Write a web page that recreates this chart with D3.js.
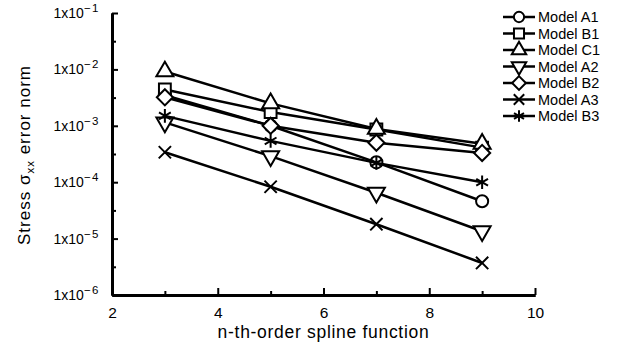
<!DOCTYPE html>
<html>
<head>
<meta charset="utf-8">
<script src="https://cdn.jsdelivr.net/npm/d3@7"></script>
<style>
  body { margin: 0; background: #fff; }
  svg { font-family: "Liberation Sans", Arial, sans-serif; }
</style>
</head>
<body>
<svg id="chart" width="622" height="352"></svg>
<script>
// spline order on x, error norm on y
var orders = [3, 5, 7, 9];
var modelA1 = [3.5e-3, 1.0e-3, 2.25e-4, 4.6e-5];
var modelB1 = [4.4e-3, 1.75e-3, 8.6e-4, 4.1e-4];
var modelC1 = [9.2e-3, 2.5e-3, 8.8e-4, 4.8e-4];
var modelA2 = [1.15e-3, 2.9e-4, 6.5e-5, 1.35e-5];
var modelB2 = [3.2e-3, 1.0e-3, 5.0e-4, 3.3e-4];
var modelA3 = [3.4e-4, 8.3e-5, 1.8e-5, 3.7e-6];
var modelB3 = [1.5e-3, 5.4e-4, 2.2e-4, 1.0e-4];

var seriesNames = ["Model A1", "Model B1", "Model C1", "Model A2", "Model B2", "Model A3", "Model B3"];
var seriesValues = [modelA1, modelB1, modelC1, modelA2, modelB2, modelA3, modelB3];
var markerTypes = ["circle", "square", "triangle", "triangleDown", "diamond", "times", "asterisk"];

var xTicks = [2, 4, 6, 8, 10];
var xMinor = [3, 5, 7, 9];
var yExponents = [-1, -2, -3, -4, -5, -6];

var svg = d3.select("#chart");
var plotLeft = 112, plotRight = 535, plotTop = 13, plotBottom = 295;

var x = d3.scaleLinear().domain([2, 10]).range([plotLeft, plotRight]);
var y = d3.scaleLog().domain([1e-6, 1e-1]).range([plotBottom, plotTop]);

function markerPath(type, k) {
    k = k || 1;
    var sym = d3.symbol();
    switch (type) {
        case "circle": return sym.type(d3.symbolCircle).size(115 * k * k)();
        case "square": return sym.type(d3.symbolSquare).size(140 * k * k)();
        case "triangle": return sym.type(d3.symbolTriangle).size(125 * k * k)();
        case "triangleDown": return sym.type(d3.symbolTriangle).size(125 * k * k)();
        case "diamond": return sym.type(d3.symbolDiamond2).size(165 * k * k)();
        case "times": return sym.type(d3.symbolTimes).size(100 * k * k)();
        case "asterisk": return sym.type(d3.symbolAsterisk).size(130 * k * k)();
    }
}

// axes
var gx = svg.append("g").attr("transform", "translate(0," + plotBottom + ")");
gx.call(d3.axisBottom(x).tickValues(xTicks).tickSize(-7).tickSizeOuter(0).tickPadding(12).tickFormat(d3.format("d")));
gx.append("g").call(d3.axisBottom(x).tickValues(xMinor).tickSize(-4).tickSizeOuter(0).tickFormat(""));
gx.selectAll(".domain").attr("stroke-width", 3);
gx.selectAll(".tick line").attr("stroke-width", 2);
gx.selectAll(".tick text").attr("font-size", 15.5).attr("fill", "#000").attr("font-family", "Liberation Sans, Arial, sans-serif");

var gy = svg.append("g").attr("transform", "translate(" + plotLeft + ",0)");
gy.call(d3.axisLeft(y).tickValues(yExponents.map(function(e){ return Math.pow(10, e); })).tickSize(-6).tickSizeOuter(0).tickFormat(""));
gy.append("g").call(d3.axisLeft(y).tickValues([-1.5, -2.5, -3.5, -4.5, -5.5].map(function(e){ return Math.pow(10, e); })).tickSize(-4).tickSizeOuter(0).tickFormat(""));
gy.selectAll(".domain").attr("stroke-width", 3);
gy.selectAll(".tick line").attr("stroke-width", 2);

// y tick labels 1x10^n
yExponents.forEach(function(e){
    var t = svg.append("text")
        .attr("x", 100)
        .attr("y", y(Math.pow(10, e)) + 5)
        .attr("text-anchor", "end")
        .attr("font-size", 14);
    t.append("tspan").text("1x10");
    t.append("tspan").attr("dy", -6).attr("font-size", 11.5).attr("letter-spacing", 1.5).text("\u2212" + (-e));
});

// titles
svg.append("text")
    .attr("x", (plotLeft + plotRight) / 2)
    .attr("y", 338)
    .attr("text-anchor", "middle")
    .attr("font-size", 17.5)
    .attr("letter-spacing", 0.7)
    .text("n-th-order spline function");

var yt = svg.append("text")
    .attr("transform", "translate(30,245) rotate(-90)")
    .attr("font-size", 17)
    .attr("letter-spacing", 1);
yt.append("tspan").text("Stress \u03c3");
yt.append("tspan").attr("dy", 4).attr("font-size", 11.5).text("xx");
yt.append("tspan").attr("dy", -4).text(" error norm");

// series
var line = d3.line().x(function(d){ return x(d[0]); }).y(function(d){ return y(d[1]); });

seriesValues.forEach(function(vals, i){
    var pts = orders.map(function(o, j){ return [o, vals[j]]; });
    svg.append("path")
        .datum(pts)
        .attr("d", line)
        .attr("fill", "none")
        .attr("stroke", "#000")
        .attr("stroke-width", 2.5);
    svg.selectAll(null)
        .data(pts)
        .enter().append("path")
        .attr("d", markerPath(markerTypes[i]))
        .attr("transform", function(d){
            return "translate(" + x(d[0]) + "," + y(d[1]) + ")" + (markerTypes[i] === "triangleDown" ? " rotate(180)" : "");
        })
        .attr("fill", "#fff")
        .attr("stroke", "#000")
        .attr("stroke-width", 2);
});

// legend
var legend = svg.append("g").attr("transform", "translate(503,17)");
seriesNames.forEach(function(name, i){
    var row = legend.append("g").attr("transform", "translate(0," + (i * 16.5) + ")");
    row.append("line").attr("x1", 0).attr("x2", 32).attr("stroke", "#000").attr("stroke-width", 2.5);
    row.append("path")
        .attr("d", markerPath(markerTypes[i], 0.85))
        .attr("transform", "translate(16,0)" + (markerTypes[i] === "triangleDown" ? " rotate(180)" : ""))
        .attr("fill", "#fff")
        .attr("stroke", "#000")
        .attr("stroke-width", 2);
    row.append("text").attr("x", 35).attr("y", 5).attr("font-size", 14.5).text(name);
});
</script>
</body>
</html>
